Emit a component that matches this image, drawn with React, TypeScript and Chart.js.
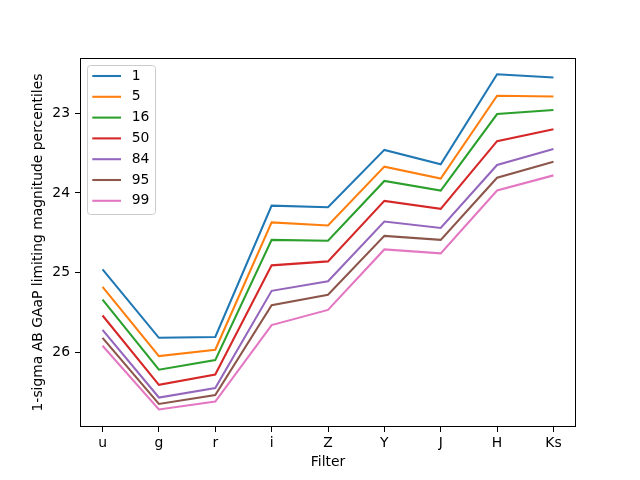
import React, { useEffect, useRef } from "react";
import { Chart, registerables } from "chart.js";

Chart.register(...registerables);

const filters = ["u", "g", "r", "i", "Z", "Y", "J", "H", "Ks"];
const yTicks = [23, 24, 25, 26];
const percentiles = ["1", "5", "16", "50", "84", "95", "99"];
const colors = ["#1f77b4", "#ff7f0e", "#2ca02c", "#d62728", "#9467bd", "#8c564b", "#e377c2"];

const p1 = [24.96, 25.82, 25.81, 24.16, 24.18, 23.46, 23.64, 22.51, 22.55];
const p5 = [25.18, 26.05, 25.97, 24.37, 24.41, 23.67, 23.82, 22.78, 22.79];
const p16 = [25.34, 26.22, 26.1, 24.59, 24.6, 23.85, 23.97, 23.01, 22.96];
const p50 = [25.54, 26.41, 26.28, 24.91, 24.86, 24.1, 24.2, 23.35, 23.2];
const p84 = [25.72, 26.57, 26.45, 25.23, 25.11, 24.36, 24.44, 23.65, 23.45];
const p95 = [25.82, 26.65, 26.54, 25.41, 25.28, 24.54, 24.59, 23.81, 23.61];
const p99 = [25.92, 26.72, 26.62, 25.66, 25.47, 24.71, 24.76, 23.97, 23.78];

const series = [p1, p5, p16, p50, p84, p95, p99];

const FONT = "'DejaVu Sans', sans-serif";
const FS = 13.9;

const framePlugin = {
  id: "frameAndLegend",
  afterDraw(chart: any) {
    const { ctx, chartArea } = chart;
    ctx.save();
    ctx.strokeStyle = "#000";
    ctx.lineWidth = 1;
    ctx.strokeRect(
      Math.round(chartArea.left) + 0.5,
      Math.round(chartArea.top) + 0.5,
      Math.round(chartArea.right - chartArea.left) - 1,
      Math.round(chartArea.bottom - chartArea.top) - 1
    );
    // legend
    const ds = chart.data.datasets;
    const bx = chartArea.left + 7.5;
    const by = chartArea.top + 7.5;
    const bw = 68;
    const rowH = 20.8;
    const bh = 149;
    const r = 3;
    ctx.beginPath();
    ctx.moveTo(bx + r, by);
    ctx.lineTo(bx + bw - r, by);
    ctx.quadraticCurveTo(bx + bw, by, bx + bw, by + r);
    ctx.lineTo(bx + bw, by + bh - r);
    ctx.quadraticCurveTo(bx + bw, by + bh, bx + bw - r, by + bh);
    ctx.lineTo(bx + r, by + bh);
    ctx.quadraticCurveTo(bx, by + bh, bx, by + bh - r);
    ctx.lineTo(bx, by + r);
    ctx.quadraticCurveTo(bx, by, bx + r, by);
    ctx.closePath();
    ctx.fillStyle = "rgba(255,255,255,0.8)";
    ctx.fill();
    ctx.strokeStyle = "#cccccc";
    ctx.lineWidth = 1;
    ctx.stroke();
    ctx.font = `${FS}px ${FONT}`;
    ctx.textBaseline = "middle";
    ctx.textAlign = "left";
    ds.forEach((d: any, i: number) => {
      const y = chartArea.top + 18 + i * rowH;
      ctx.strokeStyle = d.borderColor;
      ctx.lineWidth = 2.08;
      ctx.beginPath();
      ctx.moveTo(chartArea.left + 12.3, y);
      ctx.lineTo(chartArea.left + 41, y);
      ctx.stroke();
      ctx.fillStyle = "#000";
      ctx.fillText(d.label, chartArea.left + 51.7, y);
    });
    ctx.restore();
  },
};

export default function App() {
  const ref = useRef<HTMLCanvasElement | null>(null);
  useEffect(() => {
    if (!ref.current) return;
    const chart = new Chart(ref.current, {
      type: "line",
      data: {
        datasets: series.map((s, i) => ({
          label: percentiles[i],
          data: s.map((v, j) => ({ x: j, y: v })),
          borderColor: colors[i],
          backgroundColor: colors[i],
          borderWidth: 2.08,
          pointRadius: 0,
          fill: false,
          tension: 0,
        })),
      },
      options: {
        responsive: false,
        animation: false,
        devicePixelRatio: 1,
        layout: { padding: { top: 58, right: 64, left: 0, bottom: 0 } },
        plugins: {
          legend: { display: false },
          tooltip: { enabled: false },
        },
        scales: {
          x: {
            type: "linear",
            min: -0.4,
            max: 8.4,
            afterBuildTicks: (scale: any) => {
              scale.ticks = filters.map((_, i) => ({ value: i }));
            },
            afterFit: (scale: any) => {
              scale.height = 53;
            },
            ticks: {
              callback: (v: any) => filters[v as number] ?? "",
              color: "#000",
              font: { family: FONT, size: FS },
              padding: 3,
              maxRotation: 0,
              autoSkip: false,
            },
            grid: { display: true, drawOnChartArea: false, drawTicks: true, tickLength: 5, color: "#000", lineWidth: 1 },
            border: { display: false },
            title: {
              display: true,
              text: "Filter",
              color: "#000",
              font: { family: FONT, size: FS },
              padding: { top: 0, bottom: 9.7 },
            },
          },
          y: {
            type: "linear",
            reverse: true,
            min: 22.306,
            max: 26.94,
            afterBuildTicks: (scale: any) => {
              scale.ticks = yTicks.map((v) => ({ value: v }));
            },
            afterFit: (scale: any) => {
              scale.width = 80;
            },
            ticks: {
              color: "#000",
              font: { family: FONT, size: FS },
              padding: 5,
            },
            grid: { display: true, drawOnChartArea: false, drawTicks: true, tickLength: 5, color: "#000", lineWidth: 1 },
            border: { display: false },
            title: {
              display: true,
              text: "1-sigma AB GAaP limiting magnitude percentiles",
              color: "#000",
              font: { family: FONT, size: FS },
              padding: { top: 30, bottom: 0 },
            },
          },
        },
      },
      plugins: [framePlugin],
    });
    return () => chart.destroy();
  }, []);
  return (
    <div style={{ position: "absolute", left: 0, top: 0, width: 640, height: 480, background: "#fff" }}>
      <canvas ref={ref} width={640} height={480} />
    </div>
  );
}
